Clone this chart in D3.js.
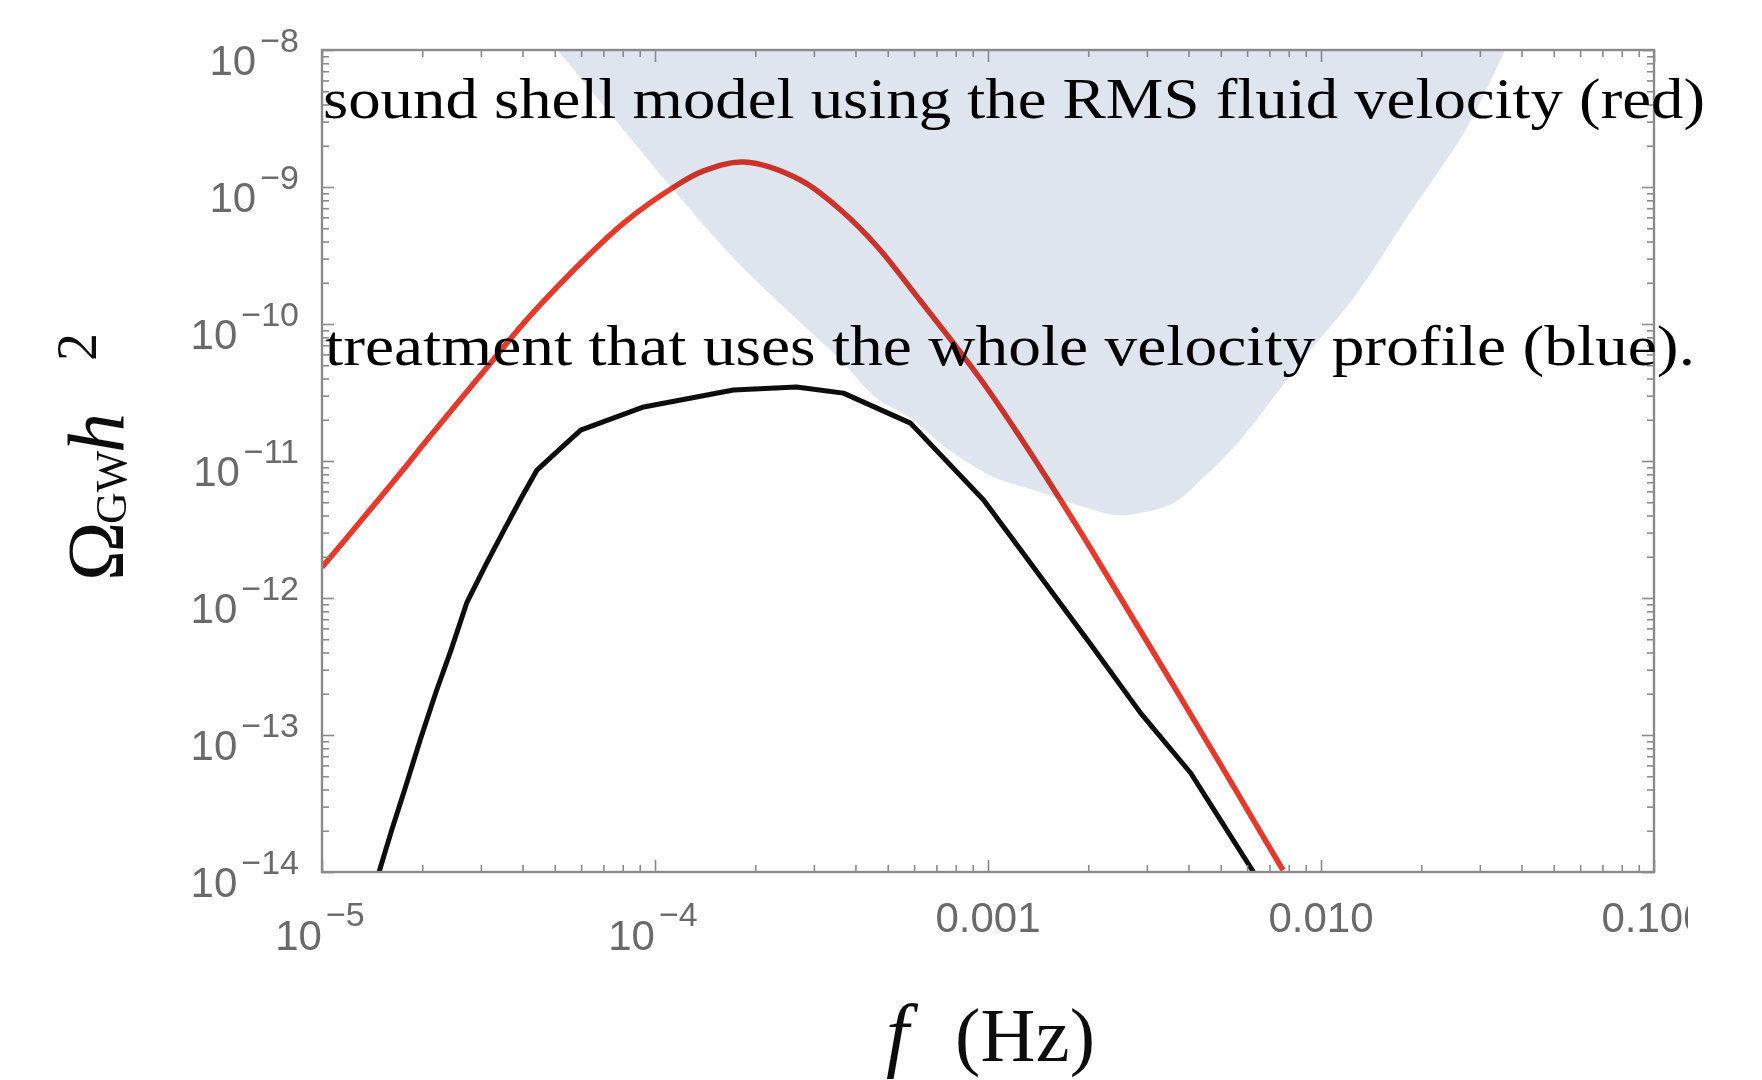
<!DOCTYPE html>
<html>
<head>
<meta charset="utf-8">
<script src="https://cdn.jsdelivr.net/npm/d3@7"></script>
<style>
  html, body { margin: 0; padding: 0; background: #ffffff; }
  svg { display: block; }
</style>
</head>
<body>
<svg id="chart" width="1762" height="1080"></svg>
<script>
// Sound shell model, RMS fluid velocity (red curve)
const freqRed  = [1.0e-5, 1.25e-5, 1.73e-5, 2.02e-5, 3.21e-5, 4.04e-5, 5.70e-5, 8.05e-5,
                  1.14e-4, 1.40e-4, 1.85e-4, 2.74e-4, 3.61e-4, 4.66e-4, 6.14e-4, 7.87e-4,
                  9.68e-4, 1.22e-3, 1.50e-3, 1.98e-3, 2.72e-3, 3.86e-3, 5.45e-3, 7.69e-3];
const omegaRed = [1.68e-12, 3.2e-12, 8.3e-12, 1.33e-11, 5.19e-11, 1.02e-10, 2.48e-10, 5.46e-10,
                  1.00e-9, 1.31e-9, 1.52e-9, 1.12e-9, 6.79e-10, 3.65e-10, 1.57e-10, 7.26e-11,
                  3.71e-11, 1.63e-11, 7.52e-12, 2.56e-12, 7.14e-13, 1.74e-13, 4.25e-14, 1.03e-14];

// Whole velocity profile treatment (black curve)
const freqBlack  = [1.48e-5, 1.62e-5, 1.77e-5, 1.98e-5, 2.20e-5, 2.44e-5, 2.72e-5, 3.10e-5,
                    3.52e-5, 3.95e-5, 4.42e-5, 5.98e-5, 9.25e-5, 1.72e-4, 2.66e-4, 3.68e-4,
                    5.85e-4, 9.70e-4, 1.37e-3, 1.99e-3, 2.87e-3, 4.06e-3, 6.27e-3];
const omegaBlack = [9.8e-15, 2.03e-14, 3.97e-14, 9.5e-14, 2.06e-13, 4.17e-13, 9.2e-13, 1.74e-12,
                    3.13e-12, 5.28e-12, 8.59e-12, 1.68e-11, 2.48e-11, 3.30e-11, 3.47e-11, 3.13e-11,
                    1.89e-11, 5.19e-12, 1.68e-12, 4.93e-13, 1.45e-13, 5.28e-14, 1.0e-14];

// Lower edge of the shaded sensitivity band
const freqBand  = [5.10e-5, 8.05e-5, 1.28e-4, 1.72e-4, 2.18e-4, 2.74e-4, 3.61e-4, 4.62e-4,
                   5.85e-4, 7.45e-4, 9.48e-4, 1.09e-3, 1.37e-3, 1.94e-3, 2.42e-3, 2.87e-3,
                   3.61e-3, 4.35e-3, 5.61e-3, 7.10e-3, 9.29e-3, 1.24e-2, 1.85e-2, 2.75e-2, 3.57e-2];
const omegaBand = [1.0e-8, 2.61e-9, 6.79e-10, 3.03e-10, 1.71e-10, 1.02e-10, 5.46e-11, 2.88e-11,
                   2.06e-11, 1.26e-11, 8.59e-12, 7.26e-12, 6.14e-12, 4.61e-12, 4.04e-12, 4.17e-12,
                   4.93e-12, 7.26e-12, 1.35e-11, 2.79e-11, 6.46e-11, 1.50e-10, 6.46e-10, 2.74e-9, 1.0e-8];

// Axis tick labels
const xTickValues = [1e-5, 1e-4, 1e-3, 1e-2, 1e-1];
const xTickLabels = [["10", "\u22125"], ["10", "\u22124"], ["0.001"], ["0.010"], ["0.100"]];
const yTickValues = [1e-8, 1e-9, 1e-10, 1e-11, 1e-12, 1e-13, 1e-14];
const yTickLabels = ["\u22128", "\u22129", "\u221210", "\u221211", "\u221212", "\u221213", "\u221214"];

const captionLines = [
  "sound shell model using the RMS fluid velocity (red)",
  "treatment that uses the whole velocity profile (blue)."
];

const svg = d3.select("#chart");
const plot = { left: 322, right: 1654, top: 50, bottom: 872 };

const x = d3.scaleLog().domain([1e-5, 1e-1]).range([plot.left, plot.right]);
const y = d3.scaleLog().domain([1e-14, 1e-8]).range([plot.bottom, plot.top]);

const defs = svg.append("defs");
defs.append("clipPath").attr("id", "plotClip")
  .append("rect")
  .attr("x", plot.left).attr("y", plot.top)
  .attr("width", plot.right - plot.left).attr("height", plot.bottom - plot.top);
defs.append("clipPath").attr("id", "figClip")
  .append("rect").attr("x", 0).attr("y", 0).attr("width", 1688).attr("height", 1080);
defs.append("filter").attr("id", "soft")
  .attr("x", "-5%").attr("y", "-5%").attr("width", "110%").attr("height", "110%")
  .append("feGaussianBlur").attr("stdDeviation", 0.6);

svg.append("rect").attr("width", 1762).attr("height", 1080).attr("fill", "#ffffff");

const fig = svg.append("g").attr("clip-path", "url(#figClip)")
  .append("g").attr("filter", "url(#soft)");

// Data layer
const inner = fig.append("g").attr("clip-path", "url(#plotClip)");

const bandData = freqBand.map((f, i) => ({ f, o: omegaBand[i] }));
inner.append("path")
  .datum(bandData)
  .attr("fill", "#dfe5ef")
  .attr("d", d3.area()
    .x(d => x(d.f))
    .y0(y(1e-8) - 5)
    .y1(d => y(d.o))
    .curve(d3.curveCatmullRom.alpha(0.5)));

const redData = freqRed.map((f, i) => ({ f, o: omegaRed[i] }));
const blackData = freqBlack.map((f, i) => ({ f, o: omegaBlack[i] }));

inner.append("path")
  .datum(blackData)
  .attr("fill", "none")
  .attr("stroke", "#0c0c0c")
  .attr("stroke-width", 5)
  .attr("stroke-linejoin", "round")
  .style("mix-blend-mode", "multiply")
  .attr("d", d3.line().x(d => x(d.f)).y(d => y(d.o)).curve(d3.curveLinear));

inner.append("path")
  .datum(redData)
  .attr("fill", "none")
  .attr("stroke", "#e8392b")
  .attr("stroke-width", 5.5)
  .attr("stroke-linejoin", "round")
  .style("mix-blend-mode", "multiply")
  .attr("d", d3.line().x(d => x(d.f)).y(d => y(d.o)).curve(d3.curveCatmullRom.alpha(0.5)));

// Frame and inward ticks on all four sides
const axisColor = "#8a8a8a";
const xMinor = x.ticks().filter(v => !xTickValues.some(m => Math.abs(m - v) / m < 1e-6));
const yMinor = y.ticks().filter(v => !yTickValues.some(m => Math.abs(m - v) / m < 1e-6));

function styleAxis(g) {
  g.select(".domain").remove();
  g.selectAll(".tick line").attr("stroke", axisColor).attr("stroke-width", 1.6);
  g.selectAll(".tick text").remove();
}

const axes = fig.append("g");
[[d3.axisBottom, `translate(0,${plot.bottom})`, x, xTickValues, xMinor],
 [d3.axisTop, `translate(0,${plot.top})`, x, xTickValues, xMinor],
 [d3.axisLeft, `translate(${plot.left},0)`, y, yTickValues, yMinor],
 [d3.axisRight, `translate(${plot.right},0)`, y, yTickValues, yMinor]
].forEach(([axisFn, tr, scale, major, minor]) => {
  axes.append("g").attr("transform", tr)
    .call(axisFn(scale).tickValues(minor).tickSize(-7).tickFormat(""))
    .call(styleAxis);
  axes.append("g").attr("transform", tr)
    .call(axisFn(scale).tickValues(major).tickSize(-12).tickFormat(""))
    .call(styleAxis);
});

fig.append("rect")
  .attr("x", plot.left).attr("y", plot.top)
  .attr("width", plot.right - plot.left).attr("height", plot.bottom - plot.top)
  .attr("fill", "none").attr("stroke", axisColor).attr("stroke-width", 2.4);

// Tick labels
const labelFont = "'Liberation Sans', Arial, Helvetica, sans-serif";
const labelColor = "#6b6b6b";

const xLabels = fig.append("g")
  .attr("font-family", labelFont).attr("fill", labelColor).attr("text-anchor", "middle");
xTickValues.forEach((v, i) => {
  const parts = xTickLabels[i];
  if (parts.length === 2) {
    const t = xLabels.append("text").attr("x", x(v) - 2).attr("y", 950).attr("font-size", 42);
    t.append("tspan").text(parts[0]);
    t.append("tspan").attr("dx", 4).attr("dy", -24).attr("font-size", 34).text(parts[1]);
  } else {
    xLabels.append("text").attr("x", x(v)).attr("y", 932).attr("font-size", 42).text(parts[0]);
  }
});

const yLabels = fig.append("g")
  .attr("font-family", labelFont).attr("fill", labelColor).attr("text-anchor", "end");
yTickValues.forEach((v, i) => {
  const t = yLabels.append("text").attr("x", 299).attr("y", y(v) + 25).attr("font-size", 42);
  t.append("tspan").text("10");
  t.append("tspan").attr("dx", 4).attr("dy", -23).attr("font-size", 34).text(yTickLabels[i]);
});

// Axis titles
const serif = "'Liberation Serif', 'Times New Roman', serif";
const xTitle = fig.append("text")
  .attr("font-family", serif).attr("fill", "#111").attr("y", 1061).attr("font-size", 76);
xTitle.append("tspan").attr("x", 886).attr("font-size", 82).attr("font-style", "italic").text("f");
xTitle.append("tspan").attr("x", 955).attr("textLength", 140).text("(Hz)");

const yTitle = fig.append("text")
  .attr("font-family", serif).attr("fill", "#111")
  .attr("transform", "translate(123,581) rotate(-90)");
yTitle.append("tspan").attr("x", 0).attr("y", 0).attr("font-size", 80).text("\u03A9");
yTitle.append("tspan").attr("x", 57).attr("y", 3).attr("font-size", 44).text("GW");
yTitle.append("tspan").attr("x", 128).attr("y", 0).attr("font-size", 80).attr("font-style", "italic").text("h");
yTitle.append("tspan").attr("x", 220).attr("y", -27).attr("font-size", 56).text("2");

// Caption lines laid over the figure
const captions = svg.append("g").attr("font-family", serif).attr("fill", "#000").attr("font-size", 56);
captions.append("text").attr("x", 323).attr("y", 118)
  .attr("textLength", 1382).attr("lengthAdjust", "spacingAndGlyphs").text(captionLines[0]);
captions.append("text").attr("x", 325).attr("y", 365)
  .attr("textLength", 1370).attr("lengthAdjust", "spacingAndGlyphs").text(captionLines[1]);
</script>
</body>
</html>
